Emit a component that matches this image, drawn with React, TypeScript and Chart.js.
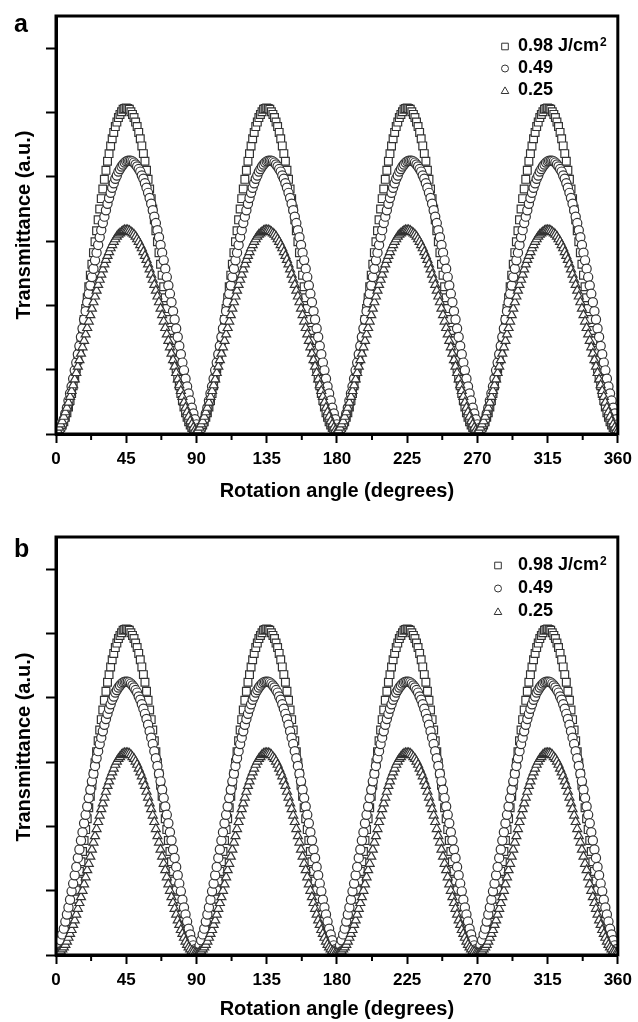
import React, { useEffect, useRef } from 'react';
import { Chart, registerables } from 'chart.js';

Chart.register(...registerables);

// ---------- data ----------
// rotation angles sampled every 1 degree, 0..360
const angles: number[] = Array.from({ length: 361 }, (_, i) => i);

const xTickValues = [0, 45, 90, 135, 180, 225, 270, 315, 360];
const xMinorTicks = [22.5, 67.5, 112.5, 157.5, 202.5, 247.5, 292.5, 337.5];
const yTickValues = [0, 100, 200, 300, 400, 500, 600];

const legendLabels = ['0.98 J/cm', '0.49', '0.25'];
const legendSup = ['2', '', ''];

const xTitle = 'Rotation angle (degrees)';
const yTitle = 'Transmittance (a.u.)';

// Panel a (transmittance, arbitrary units)
const squaresA = [
  4,5,6,10,14,19,26,33,42,52,63,75,87,101,115,130,145,161,178,195,212,229,247,264,282,299,316,333,350,366,381,396,410,424,436,448,459,469,478,485,492,497,501,505,506,507,506,505,501,497,492,485,478,469,459,448,436,424,410,396,381,366,350,333,316,299,282,264,247,229,212,195,178,161,145,130,115,101,87,75,63,52,42,33,26,19,14,10,6,5,
  4,5,6,10,14,19,26,33,42,52,63,75,87,101,115,130,145,161,178,195,212,229,247,264,282,299,316,333,350,366,381,396,410,424,436,448,459,469,478,485,492,497,501,505,506,507,506,505,501,497,492,485,478,469,459,448,436,424,410,396,381,366,350,333,316,299,282,264,247,229,212,195,178,161,145,130,115,101,87,75,63,52,42,33,26,19,14,10,6,5,
  4,5,6,10,14,19,26,33,42,52,63,75,87,101,115,130,145,161,178,195,212,229,247,264,282,299,316,333,350,366,381,396,410,424,436,448,459,469,478,485,492,497,501,505,506,507,506,505,501,497,492,485,478,469,459,448,436,424,410,396,381,366,350,333,316,299,282,264,247,229,212,195,178,161,145,130,115,101,87,75,63,52,42,33,26,19,14,10,6,5,
  4,5,6,10,14,19,26,33,42,52,63,75,87,101,115,130,145,161,178,195,212,229,247,264,282,299,316,333,350,366,381,396,410,424,436,448,459,469,478,485,492,497,501,505,506,507,506,505,501,497,492,485,478,469,459,448,436,424,410,396,381,366,350,333,316,299,282,264,247,229,212,195,178,161,145,130,115,101,87,75,63,52,42,33,26,19,14,10,6,5,
  4,
];

const circlesA = [
  15,9,
  5,9,15,23,32,41,52,63,74,86,99,111,124,137,151,164,178,191,205,218,231,244,257,270,282,294,306,317,328,338,348,358,367,375,383,390,397,402,408,412,416,419,422,424,425,425,425,424,422,419,416,412,408,402,397,390,383,375,367,358,348,338,328,317,306,294,282,270,257,244,231,218,205,191,178,164,151,137,124,111,99,86,74,63,52,41,32,23,15,9,
  5,9,15,23,32,41,52,63,74,86,99,111,124,137,151,164,178,191,205,218,231,244,257,270,282,294,306,317,328,338,348,358,367,375,383,390,397,402,408,412,416,419,422,424,425,425,425,424,422,419,416,412,408,402,397,390,383,375,367,358,348,338,328,317,306,294,282,270,257,244,231,218,205,191,178,164,151,137,124,111,99,86,74,63,52,41,32,23,15,9,
  5,9,15,23,32,41,52,63,74,86,99,111,124,137,151,164,178,191,205,218,231,244,257,270,282,294,306,317,328,338,348,358,367,375,383,390,397,402,408,412,416,419,422,424,425,425,425,424,422,419,416,412,408,402,397,390,383,375,367,358,348,338,328,317,306,294,282,270,257,244,231,218,205,191,178,164,151,137,124,111,99,86,74,63,52,41,32,23,15,9,
  5,9,15,23,32,41,52,63,74,86,99,111,124,137,151,164,178,191,205,218,231,244,257,270,282,294,306,317,328,338,348,358,367,375,383,390,397,402,408,412,416,419,422,424,425,425,425,424,422,419,416,412,408,402,397,390,383,375,367,358,348,338,328,317,306,294,282,270,257,244,231,218,205,191,178,164,151,137,124,111,99,86,74,63,52,41,32,23,15,
];

const trianglesA = [
  4,6,10,15,20,27,34,41,49,58,67,76,85,95,105,115,125,135,145,155,165,175,185,195,205,214,223,232,240,248,256,264,271,277,283,289,294,299,303,307,310,312,314,316,317,317,317,316,314,312,310,307,303,299,294,289,283,277,271,264,256,248,240,232,223,214,205,195,185,175,165,155,145,135,125,115,105,95,85,76,67,58,49,41,34,27,20,15,10,6,
  4,6,10,15,20,27,34,41,49,58,67,76,85,95,105,115,125,135,145,155,165,175,185,195,205,214,223,232,240,248,256,264,271,277,283,289,294,299,303,307,310,312,314,316,317,317,317,316,314,312,310,307,303,299,294,289,283,277,271,264,256,248,240,232,223,214,205,195,185,175,165,155,145,135,125,115,105,95,85,76,67,58,49,41,34,27,20,15,10,6,
  4,6,10,15,20,27,34,41,49,58,67,76,85,95,105,115,125,135,145,155,165,175,185,195,205,214,223,232,240,248,256,264,271,277,283,289,294,299,303,307,310,312,314,316,317,317,317,316,314,312,310,307,303,299,294,289,283,277,271,264,256,248,240,232,223,214,205,195,185,175,165,155,145,135,125,115,105,95,85,76,67,58,49,41,34,27,20,15,10,6,
  4,6,10,15,20,27,34,41,49,58,67,76,85,95,105,115,125,135,145,155,165,175,185,195,205,214,223,232,240,248,256,264,271,277,283,289,294,299,303,307,310,312,314,316,317,317,317,316,314,312,310,307,303,299,294,289,283,277,271,264,256,248,240,232,223,214,205,195,185,175,165,155,145,135,125,115,105,95,85,76,67,58,49,41,34,27,20,15,10,6,
  4,
];

// Panel b
const squaresB = [
  4,5,6,10,14,19,26,33,42,52,63,75,87,101,115,130,145,161,178,195,212,229,247,264,282,299,316,333,350,366,381,396,410,424,436,448,459,469,478,485,492,497,501,505,506,507,506,505,501,497,492,485,478,469,459,448,436,424,410,396,381,366,350,333,316,299,282,264,247,229,212,195,178,161,145,130,115,101,87,75,63,52,42,33,26,19,14,10,6,5,
  4,5,6,10,14,19,26,33,42,52,63,75,87,101,115,130,145,161,178,195,212,229,247,264,282,299,316,333,350,366,381,396,410,424,436,448,459,469,478,485,492,497,501,505,506,507,506,505,501,497,492,485,478,469,459,448,436,424,410,396,381,366,350,333,316,299,282,264,247,229,212,195,178,161,145,130,115,101,87,75,63,52,42,33,26,19,14,10,6,5,
  4,5,6,10,14,19,26,33,42,52,63,75,87,101,115,130,145,161,178,195,212,229,247,264,282,299,316,333,350,366,381,396,410,424,436,448,459,469,478,485,492,497,501,505,506,507,506,505,501,497,492,485,478,469,459,448,436,424,410,396,381,366,350,333,316,299,282,264,247,229,212,195,178,161,145,130,115,101,87,75,63,52,42,33,26,19,14,10,6,5,
  4,5,6,10,14,19,26,33,42,52,63,75,87,101,115,130,145,161,178,195,212,229,247,264,282,299,316,333,350,366,381,396,410,424,436,448,459,469,478,485,492,497,501,505,506,507,506,505,501,497,492,485,478,469,459,448,436,424,410,396,381,366,350,333,316,299,282,264,247,229,212,195,178,161,145,130,115,101,87,75,63,52,42,33,26,19,14,10,6,5,
  4,
];

const circlesB = [
  5,9,15,23,32,41,52,63,74,86,99,111,124,137,151,164,178,191,205,218,231,244,257,270,282,294,306,317,328,338,348,358,367,375,383,390,397,402,408,412,416,419,422,424,425,425,425,424,422,419,416,412,408,402,397,390,383,375,367,358,348,338,328,317,306,294,282,270,257,244,231,218,205,191,178,164,151,137,124,111,99,86,74,63,52,41,32,23,15,9,
  5,9,15,23,32,41,52,63,74,86,99,111,124,137,151,164,178,191,205,218,231,244,257,270,282,294,306,317,328,338,348,358,367,375,383,390,397,402,408,412,416,419,422,424,425,425,425,424,422,419,416,412,408,402,397,390,383,375,367,358,348,338,328,317,306,294,282,270,257,244,231,218,205,191,178,164,151,137,124,111,99,86,74,63,52,41,32,23,15,9,
  5,9,15,23,32,41,52,63,74,86,99,111,124,137,151,164,178,191,205,218,231,244,257,270,282,294,306,317,328,338,348,358,367,375,383,390,397,402,408,412,416,419,422,424,425,425,425,424,422,419,416,412,408,402,397,390,383,375,367,358,348,338,328,317,306,294,282,270,257,244,231,218,205,191,178,164,151,137,124,111,99,86,74,63,52,41,32,23,15,9,
  5,9,15,23,32,41,52,63,74,86,99,111,124,137,151,164,178,191,205,218,231,244,257,270,282,294,306,317,328,338,348,358,367,375,383,390,397,402,408,412,416,419,422,424,425,425,425,424,422,419,416,412,408,402,397,390,383,375,367,358,348,338,328,317,306,294,282,270,257,244,231,218,205,191,178,164,151,137,124,111,99,86,74,63,52,41,32,23,15,9,
  5,
];

const trianglesB = [
  3,3,5,6,9,12,16,21,27,33,39,47,54,63,72,81,90,100,110,121,132,142,153,164,175,185,196,207,217,227,236,245,254,263,270,278,284,290,296,301,305,308,311,313,314,314,314,313,311,308,305,301,296,290,284,278,270,263,254,245,236,227,217,207,196,185,175,164,153,142,132,121,110,100,90,81,72,63,54,47,39,33,27,21,16,12,9,6,5,3,
  3,3,5,6,9,12,16,21,27,33,39,47,54,63,72,81,90,100,110,121,132,142,153,164,175,185,196,207,217,227,236,245,254,263,270,278,284,290,296,301,305,308,311,313,314,314,314,313,311,308,305,301,296,290,284,278,270,263,254,245,236,227,217,207,196,185,175,164,153,142,132,121,110,100,90,81,72,63,54,47,39,33,27,21,16,12,9,6,5,3,
  3,3,5,6,9,12,16,21,27,33,39,47,54,63,72,81,90,100,110,121,132,142,153,164,175,185,196,207,217,227,236,245,254,263,270,278,284,290,296,301,305,308,311,313,314,314,314,313,311,308,305,301,296,290,284,278,270,263,254,245,236,227,217,207,196,185,175,164,153,142,132,121,110,100,90,81,72,63,54,47,39,33,27,21,16,12,9,6,5,3,
  3,3,5,6,9,12,16,21,27,33,39,47,54,63,72,81,90,100,110,121,132,142,153,164,175,185,196,207,217,227,236,245,254,263,270,278,284,290,296,301,305,308,311,313,314,314,314,313,311,308,305,301,296,290,284,278,270,263,254,245,236,227,217,207,196,185,175,164,153,142,132,121,110,100,90,81,72,63,54,47,39,33,27,21,16,12,9,6,5,3,
  3,
];

// ---------- styling ----------
const FONT = "'Liberation Sans', Arial, Helvetica, sans-serif";
const MARK = '#333333';
const W = 638;

type PanelCfg = {
  letter: string;
  height: number;
  letterY: number;
  xTitleY: number;
  yTitleY: number;
  legendX: number;
  legendYs: number[];
  series: number[][];
};

const panelA: PanelCfg = {
  letter: 'a',
  height: 521,
  letterY: 32,
  xTitleY: 491,
  yTitleY: 225,
  legendX: 505,
  legendYs: [46.5, 68.5, 90.5],
  series: [squaresA, circlesA, trianglesA],
};

const panelB: PanelCfg = {
  letter: 'b',
  height: 501,
  letterY: 36,
  xTitleY: 488,
  yTitleY: 226,
  legendX: 498,
  legendYs: [44.5, 67.5, 90.5],
  series: [squaresB, circlesB, trianglesB],
};

function drawLegendMarker(ctx: CanvasRenderingContext2D, kind: number, x: number, y: number) {
  ctx.beginPath();
  if (kind === 0) {
    ctx.rect(x - 3.3, y - 3.3, 6.6, 6.6);
  } else if (kind === 1) {
    ctx.arc(x, y, 3.5, 0, Math.PI * 2);
  } else {
    const r = 4.4;
    for (let k = 0; k < 3; k++) {
      const a = (k * 2 * Math.PI) / 3;
      const px = x + Math.sin(a) * r;
      const py = y + 0.8 - Math.cos(a) * r;
      if (k === 0) ctx.moveTo(px, py);
      else ctx.lineTo(px, py);
    }
    ctx.closePath();
  }
  ctx.fillStyle = '#fff';
  ctx.fill();
  ctx.lineWidth = 1;
  ctx.strokeStyle = MARK;
  ctx.stroke();
}

function makeDecor(cfg: PanelCfg) {
  return {
    id: 'decor',
    afterDraw(chart: any) {
      const { ctx, chartArea: a, scales } = chart;
      ctx.save();
      // frame
      ctx.strokeStyle = '#000';
      ctx.lineWidth = 3;
      ctx.strokeRect(a.left, a.top, a.right - a.left, a.bottom - a.top);
      // minor x ticks
      ctx.lineWidth = 2;
      xMinorTicks.forEach((v) => {
        const px = scales.x.getPixelForValue(v);
        ctx.beginPath();
        ctx.moveTo(px, a.bottom);
        ctx.lineTo(px, a.bottom + 6);
        ctx.stroke();
      });
      ctx.fillStyle = '#000';
      // panel letter
      ctx.font = `bold 25px ${FONT}`;
      ctx.textAlign = 'left';
      ctx.textBaseline = 'alphabetic';
      ctx.fillText(cfg.letter, 14, cfg.letterY);
      // axis titles
      ctx.font = `bold 20px ${FONT}`;
      ctx.textAlign = 'center';
      ctx.textBaseline = 'middle';
      ctx.fillText(xTitle, (a.left + a.right) / 2, cfg.xTitleY);
      ctx.save();
      ctx.translate(24, cfg.yTitleY);
      ctx.rotate(-Math.PI / 2);
      ctx.fillText(yTitle, 0, 0);
      ctx.restore();
      // legend
      legendLabels.forEach((lab, i) => {
        const y = cfg.legendYs[i];
        drawLegendMarker(ctx, i, cfg.legendX, y);
        ctx.fillStyle = '#000';
        ctx.font = `bold 18px ${FONT}`;
        ctx.textAlign = 'left';
        ctx.textBaseline = 'middle';
        ctx.fillText(lab, 518, y);
        if (legendSup[i]) {
          const w = ctx.measureText(lab).width;
          ctx.font = `bold 12px ${FONT}`;
          ctx.textBaseline = 'alphabetic';
          ctx.fillText(legendSup[i], 518 + w + 1, y - 1);
        }
      });
      ctx.restore();
    },
  };
}

function Panel({ cfg }: { cfg: PanelCfg }) {
  const ref = useRef<HTMLCanvasElement>(null);
  useEffect(() => {
    if (!ref.current) return;
    const styles = [
      { pointStyle: 'rect', pointRadius: 5.5, order: 3 },
      { pointStyle: 'circle', pointRadius: 4.6, order: 2 },
      { pointStyle: 'triangle', pointRadius: 5.2, order: 1 },
    ];
    const chart = new Chart(ref.current, {
      type: 'scatter',
      data: {
        datasets: cfg.series.map((vals, si) => ({
          label: legendLabels[si],
          data: vals.map((y, i) => ({ x: angles[i], y })),
          pointStyle: styles[si].pointStyle as any,
          pointRadius: styles[si].pointRadius,
          pointHoverRadius: styles[si].pointRadius,
          pointBorderWidth: 1.2,
          borderColor: MARK,
          pointBorderColor: MARK,
          backgroundColor: '#ffffff',
          pointBackgroundColor: '#ffffff',
          showLine: false,
          order: styles[si].order,
        })),
      },
      options: {
        animation: false,
        responsive: false,
        devicePixelRatio: 1,
        events: [],
        layout: { padding: { top: 16, right: 15, left: 0, bottom: 0 } },
        plugins: { legend: { display: false }, tooltip: { enabled: false }, title: { display: false } },
        scales: {
          x: {
            type: 'linear',
            min: 0,
            max: 360,
            afterBuildTicks: (s: any) => {
              s.ticks = xTickValues.map((v) => ({ value: v }));
            },
            ticks: {
              autoSkip: false,
              maxRotation: 0,
              color: '#000',
              padding: 6,
              font: { family: FONT, size: 17, weight: 'bold' },
            },
            grid: { drawOnChartArea: false, drawTicks: true, tickLength: 9, tickColor: '#000', tickWidth: 2 },
            border: { display: true, color: '#000', width: 3 },
            afterFit: (s: any) => {
              s.height = cfg.height - 434;
            },
          },
          y: {
            type: 'linear',
            min: 0,
            max: 650,
            afterBuildTicks: (s: any) => {
              s.ticks = yTickValues.map((v) => ({ value: v }));
            },
            ticks: { display: false, includeBounds: false },
            grid: { drawOnChartArea: false, drawTicks: true, tickLength: 10, tickColor: '#000', tickWidth: 2 },
            border: { display: true, color: '#000', width: 3 },
            afterFit: (s: any) => {
              s.width = 56;
            },
          },
        },
      },
      plugins: [makeDecor(cfg)],
    } as any);
    return () => chart.destroy();
  }, [cfg]);
  return (
    <canvas
      ref={ref}
      width={W}
      height={cfg.height}
      style={{ display: 'block', width: W, height: cfg.height }}
    />
  );
}

export default function App() {
  return (
    <div style={{ position: 'absolute', left: 0, top: 0, width: W, height: 1022, background: '#fff' }}>
      <Panel cfg={panelA} />
      <Panel cfg={panelB} />
    </div>
  );
}
